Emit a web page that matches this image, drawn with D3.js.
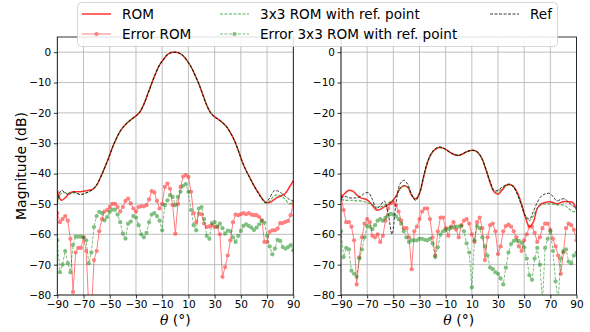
<!DOCTYPE html>
<html>
<head>
<meta charset="utf-8">
<script src="https://cdn.jsdelivr.net/npm/d3@7"></script>
<style>
  body { margin: 0; background: #fff; }
  svg { font-family: "DejaVu Sans", sans-serif; }
</style>
</head>
<body>
<svg id="chart" width="590" height="332"></svg>
<script>
// angle grids (deg)
const thetaMain = d3.range(-90, 91, 3);   // smooth curves
const thetaErr = d3.range(-90, 91, 2);    // error curves with markers

// ---- left panel ----
const leftRom = [-45.5,-48.8,-48,-46.5,-46,-46,-46,-45.7,-45.5,-45.2,-43.8,-41.2,-38.2,-35,-31.5,-28.5,-26,-24.3,-23,-22,-21,-19.7,-17.2,-13.8,-10.3,-7,-4.2,-2.4,-0.8,-0.1,0,-0.3,-1.2,-2.8,-4.8,-7.5,-10.5,-14,-17.5,-20,-21.3,-22.2,-23.2,-24.5,-26.5,-29,-32.3,-36,-39,-41.5,-44,-46,-48,-49.5,-49.5,-48.7,-47.8,-47.3,-46.5,-44.5,-42.3];
const left3x3 = [-50,-46.5,-46.3,-46.5,-46.3,-46.6,-46.8,-46.5,-46,-45.2,-43.8,-41.2,-38.2,-35,-31.5,-28.5,-26,-24.3,-23,-22,-21,-19.7,-17.2,-13.8,-10.3,-7,-4.2,-2.4,-0.8,-0.1,0,-0.3,-1.2,-2.8,-4.8,-7.5,-10.5,-14,-17.5,-20,-21.3,-22.2,-23.2,-24.5,-26.5,-29,-32.3,-36,-39,-41.5,-44,-46.2,-48.3,-49.7,-49,-47.5,-47,-47.5,-48.5,-50,-49];
const leftRef = [-49.5,-45.5,-46.3,-47,-46,-46.5,-47,-46.5,-46,-45.2,-43.8,-41.2,-38.2,-35,-31.5,-28.5,-26,-24.3,-23,-22,-21,-19.7,-17.2,-13.8,-10.3,-7,-4.2,-2.4,-0.8,-0.1,0,-0.3,-1.2,-2.8,-4.8,-7.5,-10.5,-14,-17.5,-20,-21.3,-22.2,-23.2,-24.5,-26.5,-29,-32.3,-36,-39,-41.5,-44,-46.3,-48.3,-49.5,-48,-45.8,-45.7,-46.5,-47.5,-48.5,-49];
const leftErrRom = [-53,-56,-55,-54,-55.5,-61.5,-79,-66,-64.5,-64.5,-61,-65.5,-84,-86,-68.5,-65.5,-59,-55,-52.5,-52,-51,-50,-50,-51,-52.5,-51,-49,-48.2,-49.8,-51.5,-52.5,-51,-50.8,-50.8,-50.4,-48.5,-45.8,-46.2,-49,-51.5,-50,-44.4,-43.3,-45,-50.4,-59.8,-50,-44.4,-41,-40.5,-41.1,-46,-53,-56,-53.2,-53.4,-56.5,-57.6,-57.4,-57,-57.6,-57.6,-60,-74,-70.8,-67,-62,-56,-53.5,-53.7,-53.4,-53,-53.4,-53,-53.5,-53.7,-53.7,-54.3,-55.4,-62.5,-62.5,-59.2,-58.7,-58.7,-58.1,-56.3,-56.3,-55.9,-55.6,-53.7,-50];
const leftErr3x3 = [-62,-72.5,-70,-65.5,-69.5,-72.5,-63.5,-60.8,-60.8,-60.8,-61,-62,-69.5,-66,-57.6,-54,-52.6,-53,-55.4,-54.3,-52.6,-51.9,-51.9,-53.5,-56,-59.8,-61.4,-56.5,-55.8,-54,-54.5,-57,-60,-61,-59.5,-56,-53.5,-53,-54,-55.5,-58.7,-50.4,-48.8,-47.1,-47.7,-50.4,-47.7,-46,-44,-43.5,-46,-52,-57,-58.7,-51.5,-51,-55,-60.5,-61.5,-56.3,-56,-57.4,-56.5,-58,-59.8,-58.8,-59,-61,-62.5,-60.5,-58.9,-57.2,-56.7,-57.2,-57.8,-58.6,-57.8,-56.7,-55.6,-56.2,-60.5,-64,-66.6,-64.7,-61.8,-62.2,-64.2,-64.7,-64.2,-63.6,-65.3];

// ---- right panel ----
const rightRom = [-48,-46.5,-45.5,-45.8,-47,-48,-48.3,-49,-50.5,-52,-51.8,-51,-50.3,-49.2,-47.5,-45,-44,-44.5,-47.2,-48.3,-46.5,-41.5,-36.5,-33.5,-32,-31.4,-31.6,-32.3,-33.2,-33.8,-34,-33.5,-32.8,-32.4,-32.4,-33.2,-35.3,-39,-43,-46,-46.8,-45.5,-44,-43.6,-44.3,-46.5,-50,-54.5,-57.5,-56,-51.5,-50,-49.5,-49.3,-49.5,-50,-49.5,-49.2,-49.3,-49.5,-52];
const right3x3 = [-48.5,-48.8,-48.8,-48.8,-49,-49,-49.3,-49.7,-50.3,-51,-51,-50.5,-49.8,-49,-47.5,-45,-44,-44.5,-47,-48.8,-46.5,-41.3,-36.5,-33.5,-32,-31.4,-31.6,-32.3,-33.2,-33.8,-34,-33.5,-32.8,-32.4,-32.4,-33.2,-35.3,-39,-43,-45.8,-46,-45,-44,-43.7,-44.5,-47,-50.5,-54,-55.5,-54,-51.5,-50.3,-50,-50,-50,-50.3,-50.3,-50.5,-51.5,-52.5,-52.5];
const rightRef = [-48.3,-47.5,-48,-48,-48,-47.5,-46.5,-46.3,-48.5,-51.5,-50.5,-49,-53,-60,-50,-43.5,-42.2,-43.5,-46.8,-48.8,-46.5,-41,-36.3,-33.3,-31.8,-31.2,-31.5,-32.3,-33.2,-33.8,-34,-33.5,-32.8,-32.4,-32.4,-33.2,-35.3,-38.8,-42.5,-45.5,-45.5,-44.5,-43.7,-43.5,-44.5,-47,-50.5,-54,-55,-52.5,-49.5,-47.5,-46.7,-46.5,-47.5,-49,-48.5,-48.3,-49.5,-50.5,-51.5];
const rightErrRom = [-47.5,-52,-56,-56,-57.5,-62,-76.5,-67.5,-61,-56.5,-55,-56,-60.5,-61,-60,-62.5,-60.5,-55.5,-51.5,-49.8,-49.5,-50.5,-52.5,-55.5,-58,-58,-61,-71.5,-59,-57.5,-55,-52.5,-51.5,-51.5,-55,-61,-67,-59,-54.5,-54.5,-58,-60.5,-57.5,-56,-58.5,-61,-57,-55.5,-55,-56.5,-60,-62.5,-56,-54.5,-58,-68.5,-61,-57,-56.5,-59,-66.5,-64,-59,-57.3,-56.8,-57.5,-59,-61,-64,-65.5,-62,-60,-57.5,-57.5,-59.5,-62.5,-61,-58,-56.5,-56.5,-58.5,-61.5,-64,-67,-73,-66,-58,-56.5,-57,-58.5,-62];
const rightErr3x3 = [-59,-67.5,-64.5,-65,-72,-73,-74,-68,-65,-61,-57.3,-57.5,-58.3,-57,-55.5,-55,-55.5,-54.5,-53.8,-53.3,-53.5,-54,-55,-56.5,-59,-61,-62.5,-62,-62,-62,-61.5,-61.5,-61.8,-62,-61.5,-63,-67.5,-64.3,-60.1,-59,-58.6,-58.2,-57.9,-57.7,-57.5,-57.5,-57.3,-59,-63,-66,-77.5,-62,-57.3,-58,-61,-64,-67,-71,-71.5,-72.5,-73,-74.5,-76.5,-71,-66,-63.2,-62.2,-62,-62.2,-62.8,-64.3,-68,-73.5,-75,-68,-64.5,-70,-82,-64.5,-61.5,-59,-65.5,-75.5,-82,-68,-65.5,-65,-69,-69.5,-67,-66];

const xTicks = [-90, -70, -50, -30, -10, 10, 30, 50, 70, 90];
const yTicks = [0, -10, -20, -30, -40, -50, -60, -70, -80];

const svg = d3.select('#chart');
const plotTop = 37, plotBottom = 295;

const y = d3.scaleLinear().domain([-80, 5]).range([plotBottom, plotTop]);

const series = [
  { name: 'ROM', kind: 'line', color: 'red', opacity: 0.8, width: 1.5, dash: null },
  { name: 'Error ROM', kind: 'err', color: 'red', opacity: 0.5, width: 1, dash: null },
  { name: '3x3 ROM with ref. point', kind: 'line', color: 'green', opacity: 0.65, width: 1.1, dash: '3,1.5' },
  { name: 'Error 3x3 ROM with ref. point', kind: 'err', color: 'green', opacity: 0.5, width: 1, dash: '3,1.5' },
  { name: 'Ref', kind: 'line', color: 'black', opacity: 0.85, width: 0.9, dash: '3,1.5' }
];

function drawPanel(left, right, id, data) {
  const x = d3.scaleLinear().domain([-90, 90]).range([left, right]);
  const g = svg.append('g');

  // grid
  g.append('g').selectAll('line').data(xTicks).enter().append('line')
    .attr('x1', d => x(d)).attr('x2', d => x(d))
    .attr('y1', plotTop).attr('y2', plotBottom)
    .attr('stroke', '#b0b0b0').attr('stroke-width', 0.8);
  g.append('g').selectAll('line').data(yTicks).enter().append('line')
    .attr('x1', left).attr('x2', right)
    .attr('y1', d => y(d)).attr('y2', d => y(d))
    .attr('stroke', '#b0b0b0').attr('stroke-width', 0.8);

  svg.append('clipPath').attr('id', id)
    .append('rect').attr('x', left).attr('y', plotTop)
    .attr('width', right - left).attr('height', plotBottom - plotTop);

  const plot = g.append('g').attr('clip-path', 'url(#' + id + ')');

  const smooth = d3.line().x(d => x(d[0])).y(d => y(d[1])).curve(d3.curveCatmullRom.alpha(0.5));
  const straight = d3.line().x(d => x(d[0])).y(d => y(d[1]));

  data.forEach((vals, i) => {
    const s = series[i];
    const th = s.kind === 'err' ? thetaErr : thetaMain;
    const pts = th.map((t, k) => [t, vals[k]]);
    const grp = plot.append('g').attr('opacity', s.opacity);
    grp.append('path').datum(pts)
      .attr('d', s.kind === 'err' ? straight : smooth)
      .attr('fill', 'none').attr('stroke', s.color)
      .attr('stroke-width', s.width)
      .attr('stroke-dasharray', s.dash);
    if (s.kind === 'err') {
      grp.selectAll('circle').data(pts).enter().append('circle')
        .attr('cx', d => x(d[0])).attr('cy', d => y(d[1]))
        .attr('r', 2.1).attr('fill', s.color);
    }
  });

  // axes
  const ax = g.append('g').attr('transform', 'translate(0,' + plotBottom + ')')
    .call(d3.axisBottom(x).tickValues(xTicks).tickSize(3.5).tickPadding(2.5));
  const ay = g.append('g').attr('transform', 'translate(' + left + ',0)')
    .call(d3.axisLeft(y).tickValues(yTicks).tickSize(3.5).tickPadding(2.5));
  [ax, ay].forEach(a => {
    a.select('.domain').remove();
    a.selectAll('text').attr('font-size', 10.5).attr('fill', '#000')
      .attr('font-family', '"DejaVu Sans", sans-serif');
    a.selectAll('line').attr('stroke', '#000').attr('stroke-width', 0.8);
  });

  g.append('rect').attr('x', left).attr('y', plotTop)
    .attr('width', right - left).attr('height', plotBottom - plotTop)
    .attr('fill', 'none').attr('stroke', '#000').attr('stroke-width', 0.8);

  const lbl = svg.append('text')
    .attr('x', (left + right) / 2).attr('y', 325)
    .attr('text-anchor', 'middle').attr('font-size', 14);
  lbl.append('tspan').attr('font-family', '"DejaVu Serif", serif').attr('font-style', 'italic').text('θ');
  lbl.append('tspan').text(' (°)');
}

drawPanel(57.3, 293.3, 'clipL', [leftRom, leftErrRom, left3x3, leftErr3x3, leftRef]);
drawPanel(341, 576.5, 'clipR', [rightRom, rightErrRom, right3x3, rightErr3x3, rightRef]);

svg.append('text')
  .attr('transform', 'translate(26,166) rotate(-90)')
  .attr('text-anchor', 'middle').attr('font-size', 14)
  .text('Magnitude (dB)');

// legend
const lg = svg.append('g');
lg.append('rect').attr('x', 77.5).attr('y', 2.5).attr('width', 480).attr('height', 44)
  .attr('rx', 4).attr('fill', 'white').attr('fill-opacity', 0.85)
  .attr('stroke', '#cccccc').attr('stroke-width', 0.8);

const legendPos = [
  { x: 82, y: 14 }, { x: 82, y: 34 },
  { x: 220, y: 14 }, { x: 220, y: 34 },
  { x: 490, y: 14 }
];
series.forEach((s, i) => {
  const p = legendPos[i];
  const e = lg.append('g').attr('opacity', s.opacity);
  e.append('line').attr('x1', p.x).attr('x2', p.x + 29)
    .attr('y1', p.y).attr('y2', p.y)
    .attr('stroke', s.color).attr('stroke-width', s.width)
    .attr('stroke-dasharray', s.dash);
  if (s.kind === 'err') {
    e.append('circle').attr('cx', p.x + 14.5).attr('cy', p.y).attr('r', 2.1).attr('fill', s.color);
  }
  lg.append('text').attr('x', p.x + 40).attr('y', p.y + 4.8)
    .attr('font-size', 13.6).text(s.name);
});
</script>
</body>
</html>
